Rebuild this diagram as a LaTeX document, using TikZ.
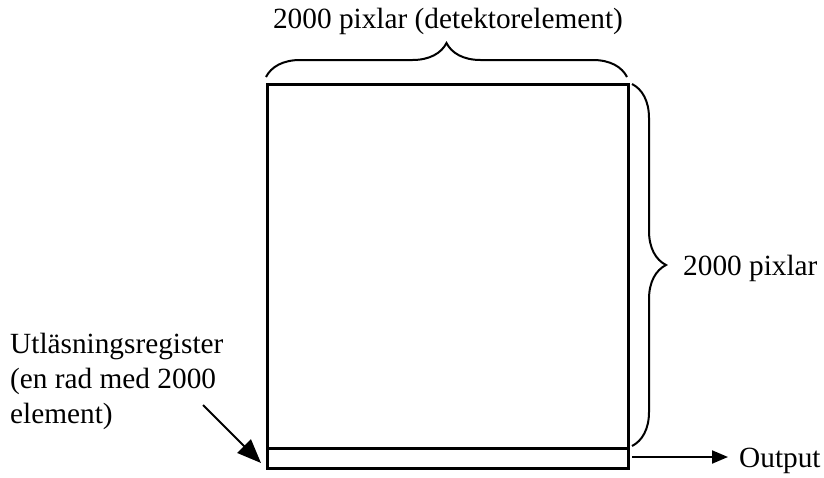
\documentclass[tikz,border=0pt]{standalone}
\usepackage{fontspec}
\setmainfont{Liberation Serif}
\usetikzlibrary{arrows.meta,decorations.pathreplacing}
\begin{document}
\begin{tikzpicture}[x=1pt,y=-1pt,
  boxline/.style={line width=3pt},
  bracebar/.style={line width=2pt,decorate,decoration={brace,amplitude=34pt}},
  arr/.style={line width=2pt,-{Triangle[length=24pt,width=19pt]}},
  arrsmall/.style={line width=2pt,-{Triangle[length=16pt,width=13pt]}},
  lbl/.style={inner sep=0pt,font=\fontsize{29.3}{35}\selectfont}]
\useasboundingbox (0,0) rectangle (824,477);
% detector area and readout register
\node[boxline,draw,minimum width=361pt,minimum height=364pt,inner sep=0pt,anchor=north west] (det) at (266,83) {};
\node[boxline,draw,minimum width=361pt,minimum height=20pt,inner sep=0pt,anchor=north west] (reg) at (266,447) {};
% braces
\coordinate (tl) at (266,77);
\coordinate (tr) at (627,77);
\draw[bracebar] (tl) -- (tr);
\coordinate (rt) at (632,84);
\coordinate (rb) at (632,446);
\draw[bracebar] (rt) -- (rb);
% labels
\node[lbl,anchor=base] (top) at (448,28) {2000 pixlar (detektorelement)};
\node[lbl,anchor=base west] (side) at (683,275) {2000 pixlar};
\node[lbl,anchor=base west,align=left] (regl) at (10,423) {Utläsningsregister\\(en rad med 2000\\element)};
\node[lbl,anchor=base west] (out) at (739,467) {Output};
% arrows
\coordinate (a0) at (203,405);
\coordinate (a1) at (261,463);
\draw[arr] (a0) -- (a1);
\coordinate (o0) at (632,457);
\coordinate (o1) at (728,457);
\draw[arrsmall] (o0) -- (o1);
\end{tikzpicture}
\end{document}
